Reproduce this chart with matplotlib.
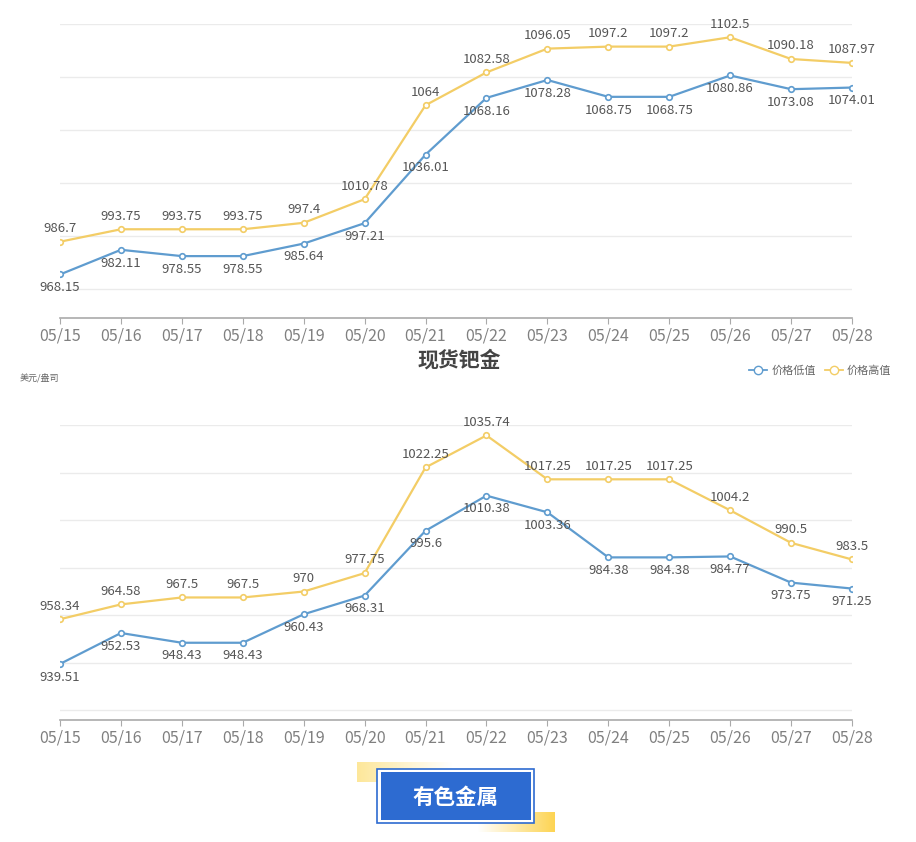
import numpy as np
import matplotlib.pyplot as plt
from matplotlib.colors import LinearSegmentedColormap
from matplotlib.lines import Line2D
from matplotlib.patches import Rectangle

plt.rcParams['font.family'] = ['Noto Sans CJK SC', 'DejaVu Sans']

dates = ['05/15', '05/16', '05/17', '05/18', '05/19', '05/20', '05/21',
         '05/22', '05/23', '05/24', '05/25', '05/26', '05/27', '05/28']

# top chart (cropped, title not visible)
top_low = [968.15, 982.11, 978.55, 978.55, 985.64, 997.21, 1036.01,
           1068.16, 1078.28, 1068.75, 1068.75, 1080.86, 1073.08, 1074.01]
top_high = [986.7, 993.75, 993.75, 993.75, 997.4, 1010.78, 1064,
            1082.58, 1096.05, 1097.2, 1097.2, 1102.5, 1090.18, 1087.97]

# 现货钯金
pd_low = [939.51, 952.53, 948.43, 948.43, 960.43, 968.31, 995.6,
          1010.38, 1003.36, 984.38, 984.38, 984.77, 973.75, 971.25]
pd_high = [958.34, 964.58, 967.5, 967.5, 970, 977.75, 1022.25,
           1035.74, 1017.25, 1017.25, 1017.25, 1004.2, 990.5, 983.5]

BLUE = '#5f9ccf'
YELLOW = '#f3cd66'
W, H = 916, 842

fig = plt.figure(figsize=(W / 100, H / 100), dpi=100)


def px_axes(left, top, right, bottom):
    return fig.add_axes([left / W, 1 - bottom / H, (right - left) / W, (bottom - top) / H])


def draw_chart(ax, low, high, ylim, yticks):
    x = np.arange(len(dates))
    ax.plot(x, high, color=YELLOW, lw=1.6, marker='o', ms=4, mfc='white',
            mec=YELLOW, mew=1.2, zorder=3)
    ax.plot(x, low, color=BLUE, lw=1.6, marker='o', ms=4, mfc='white',
            mec=BLUE, mew=1.2, zorder=3)
    for i in x:
        ax.annotate(f'{high[i]:g}', (i, high[i]), xytext=(0, 9.5), textcoords='offset points',
                    ha='center', va='center', fontsize=9.5, color='#555555', zorder=4)
        ax.annotate(f'{low[i]:g}', (i, low[i]), xytext=(0, -9.5), textcoords='offset points',
                    ha='center', va='center', fontsize=9.5, color='#555555', zorder=4)
    ax.set_xlim(0, len(dates) - 1)
    ax.set_ylim(*ylim)
    ax.set_yticks(yticks)
    ax.yaxis.grid(True, color='#ebebeb', lw=1)
    ax.set_axisbelow(True)
    ax.tick_params(axis='y', left=False, labelleft=False)
    ax.set_xticks(x)
    ax.set_xticklabels(dates, fontsize=11.5, color='#808080')
    ax.tick_params(axis='x', length=4, color='#aaaaaa', pad=3)
    for s in ['top', 'right', 'left']:
        ax.spines[s].set_visible(False)
    ax.spines['bottom'].set_color('#aaaaaa')
    ax.spines['bottom'].set_linewidth(1.2)


ax1 = px_axes(60, 24, 852, 318)
draw_chart(ax1, top_low, top_high, (943.5, 1110), [960, 990, 1020, 1050, 1080, 1110])

ax2 = px_axes(60, 425.3, 852, 720)
draw_chart(ax2, pd_low, pd_high, (915.9, 1040), [920, 940, 960, 980, 1000, 1020, 1040])

fig.text(459 / W, 1 - 360 / H, '现货钯金', ha='center', va='center', fontsize=15,
         fontweight='bold', color='#444444')
fig.text(20 / W, 1 - 378 / H, '美元/盎司', ha='left', va='center', fontsize=6.5,
         color='#666666')

handles = [Line2D([], [], color=BLUE, lw=1.3, marker='o', ms=6, mfc='white', mec=BLUE),
           Line2D([], [], color=YELLOW, lw=1.3, marker='o', ms=6, mfc='white', mec=YELLOW)]
fig.legend(handles, ['价格低值', '价格高值'], loc='center right',
           bbox_to_anchor=(897 / W, 1 - 371 / H), ncol=2, frameon=False, fontsize=8,
           handlelength=1.6, handletextpad=0.4, columnspacing=0.8, labelcolor='#666666',
           borderpad=0)

# badge at the bottom
ov = fig.add_axes([0, 0, 1, 1], zorder=5)
ov.axis('off')
ov.patch.set_alpha(0)

grad = np.linspace(0, 1, 256).reshape(1, -1)
cm_left = LinearSegmentedColormap.from_list('l', ['#fde79a', '#ffffff'])
cm_right = LinearSegmentedColormap.from_list('r', ['#ffffff', '#fdd452'])
ov.imshow(grad, cmap=cm_left, extent=(357, 452, 782, 762), aspect='auto', zorder=1)
ov.imshow(grad, cmap=cm_right, extent=(478, 555, 832, 812), aspect='auto', zorder=1)
ov.set_xlim(0, W)
ov.set_ylim(H, 0)

ov.add_patch(Rectangle((377, 769), 157, 54, facecolor='white', edgecolor='#2d6bd1',
                       lw=1.2, zorder=2))
ov.add_patch(Rectangle((380.5, 772), 150, 48, facecolor='#2d6bd1', edgecolor='none', zorder=3))
ov.text(455.5, 797, '有色金属', ha='center', va='center', fontsize=15.5, fontweight='bold',
        color='white', zorder=4)

fig.savefig('out.png', dpi=100)
